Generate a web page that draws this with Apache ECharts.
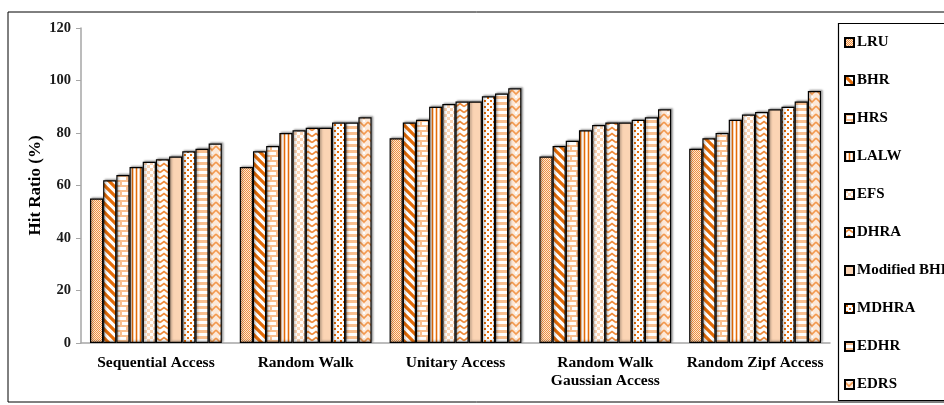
<!DOCTYPE html>
<html>
<head>
<meta charset="utf-8">
<script src="https://cdn.jsdelivr.net/npm/echarts@6/dist/echarts.min.js"></script>
<style>
  html, body { margin: 0; padding: 0; background: #fff; }
  #main { width: 944px; height: 405px; }
</style>
</head>
<body>
<div id="main"></div>
<script>
// categories (x axis)
var accessTypes = ['Sequential Access', 'Random Walk', 'Unitary Access', 'Random Walk\nGaussian Access', 'Random Zipf Access'];
// y axis ticks
var yMin = 0, yMax = 120, yStep = 20;

// hit ratio per algorithm, one value per access type
var seriesNames = ['LRU', 'BHR', 'HRS', 'LALW', 'EFS', 'DHRA', 'Modified BHR', 'MDHRA', 'EDHR', 'EDRS'];
var lru      = [55, 67, 78, 71, 74];
var bhr      = [62, 73, 84, 75, 78];
var hrs      = [64, 75, 85, 77, 80];
var lalw     = [67, 80, 90, 81, 85];
var efs      = [69, 81, 91, 83, 87];
var dhra     = [70, 82, 92, 84, 88];
var modBhr   = [71, 82, 92, 84, 89];
var mdhra    = [73, 84, 94, 85, 90];
var edhr     = [74, 84, 95, 86, 92];
var edrs     = [76, 86, 97, 89, 96];
var seriesData = [lru, bhr, hrs, lalw, efs, dhra, modBhr, mdhra, edhr, edrs];

var ORANGE = '#E36C09';
var PEACH = '#FBD4B4';
var LIGHT = '#FAC090';

function cv(w, h, bg) {
    var c = document.createElement('canvas');
    c.width = w; c.height = h;
    var ctx = c.getContext('2d');
    ctx.fillStyle = bg;
    ctx.fillRect(0, 0, w, h);
    return [c, ctx];
}

// fill patterns, one per algorithm
function makePattern(i) {
    var r, c, ctx, x, y;
    switch (i) {
    case 0: // fine checker
        r = cv(4, 4, '#FDE6D2'); c = r[0]; ctx = r[1];
        ctx.fillStyle = '#F09040';
        for (y = 0; y < 4; y++) for (x = 0; x < 4; x++) if ((x + y) % 2 === 0) ctx.fillRect(x, y, 1, 1);
        break;
    case 1: // wide diagonal
        r = cv(9, 9, '#fff'); c = r[0]; ctx = r[1];
        ctx.strokeStyle = ORANGE; ctx.lineWidth = 3.2;
        ctx.beginPath();
        ctx.moveTo(-3, -3); ctx.lineTo(12, 12);
        ctx.moveTo(-12, -3); ctx.lineTo(3, 12);
        ctx.moveTo(6, -3); ctx.lineTo(21, 12);
        ctx.stroke();
        break;
    case 2: // brick
        r = cv(12, 10, '#fff'); c = r[0]; ctx = r[1];
        ctx.fillStyle = LIGHT;
        ctx.fillRect(0, 0, 12, 2); ctx.fillRect(0, 5, 12, 2);
        ctx.fillRect(0, 0, 2, 5); ctx.fillRect(6, 5, 2, 5);
        break;
    case 3: // vertical lines
        r = cv(4, 1, PEACH); c = r[0]; ctx = r[1];
        ctx.fillStyle = ORANGE; ctx.fillRect(0, 0, 1, 1);
        ctx.fillStyle = '#fff'; ctx.fillRect(2, 0, 1, 1);
        break;
    case 4: // large checker
        r = cv(6, 6, '#fff'); c = r[0]; ctx = r[1];
        ctx.fillStyle = PEACH;
        ctx.fillRect(0, 0, 3, 3); ctx.fillRect(3, 3, 3, 3);
        break;
    case 5: // wave
        r = cv(8, 6, '#fff'); c = r[0]; ctx = r[1];
        ctx.strokeStyle = '#EE8A3A'; ctx.lineWidth = 1.6;
        ctx.beginPath();
        ctx.moveTo(0, 4.5); ctx.lineTo(4, 1.5); ctx.lineTo(8, 4.5);
        ctx.stroke();
        break;
    case 6: // solid
        return PEACH;
    case 7: // dots
        r = cv(6, 6, '#fff'); c = r[0]; ctx = r[1];
        ctx.fillStyle = ORANGE;
        ctx.fillRect(1, 1, 2, 2); ctx.fillRect(4, 4, 2, 2);
        break;
    case 8: // horizontal stripes
        r = cv(1, 6, '#fff'); c = r[0]; ctx = r[1];
        ctx.fillStyle = LIGHT; ctx.fillRect(0, 0, 1, 3);
        break;
    case 9: // chevron
        r = cv(8, 8, '#FDE9D9'); c = r[0]; ctx = r[1];
        ctx.strokeStyle = '#F39A50'; ctx.lineWidth = 1.6;
        ctx.beginPath();
        ctx.moveTo(0, 2); ctx.lineTo(4, 6); ctx.lineTo(8, 2);
        ctx.stroke();
        ctx.fillStyle = '#fff'; ctx.fillRect(3, 0, 2, 2);
        break;
    }
    return { image: c, repeat: 'repeat' };
}

var serif = '"Liberation Serif", "Times New Roman", serif';

var chart = echarts.init(document.getElementById('main'));

var series = seriesNames.map(function (name, i) {
    return {
        name: name,
        type: 'bar',
        barGap: '0%',
        barCategoryGap: '12%',
        data: seriesData[i],
        itemStyle: {
            color: makePattern(i),
            borderColor: '#000',
            borderWidth: 1.2,
            shadowColor: 'rgba(0,0,0,0.35)',
            shadowBlur: 2,
            shadowOffsetX: 1.5,
            shadowOffsetY: -1
        }
    };
});

var option = {
    animation: false,
    backgroundColor: '#fff',
    grid: { left: 81, right: 114, top: 28, bottom: 62 },
    graphic: [
        { type: 'rect', shape: { x: 8, y: 12, width: 940, height: 390 }, style: { fill: 'none', stroke: '#000', lineWidth: 1 }, silent: true },
        { type: 'rect', shape: { x: 838.5, y: 23.5, width: 120, height: 377 }, style: { fill: '#fff', stroke: '#000', lineWidth: 1.2 }, silent: true, z: 0 }
    ],
    legend: {
        orient: 'vertical',
        left: 844,
        top: 35,
        padding: 0,
        icon: 'rect',
        itemWidth: 9,
        itemHeight: 9,
        itemGap: 23,
        textStyle: { fontFamily: serif, fontWeight: 'bold', fontSize: 15, color: '#000', padding: [0, 0, 0, -2] },
        data: seriesNames,
        z: 5
    },
    xAxis: {
        type: 'category',
        data: accessTypes,
        axisLine: { lineStyle: { color: '#A6A6A6', width: 1.5 } },
        axisTick: { show: false },
        axisLabel: { interval: 0, fontFamily: serif, fontWeight: 'bold', fontSize: 15.5, color: '#000', margin: 11, lineHeight: 18 }
    },
    yAxis: {
        type: 'value',
        min: yMin,
        max: yMax,
        interval: yStep,
        name: 'Hit Ratio (%)',
        nameLocation: 'middle',
        nameGap: 37,
        nameMoveOverlap: false,
        nameTextStyle: { fontFamily: serif, fontWeight: 'bold', fontSize: 17, color: '#000' },
        axisLine: { show: true, lineStyle: { color: '#A6A6A6', width: 1.5 } },
        axisTick: { show: true, length: 5, lineStyle: { color: '#A6A6A6' } },
        splitLine: { show: false },
        axisLabel: { fontFamily: serif, fontWeight: 'bold', fontSize: 14.5, color: '#1a1a1a', margin: 10 }
    },
    series: series
};
chart.setOption(option);
</script>
</body>
</html>
